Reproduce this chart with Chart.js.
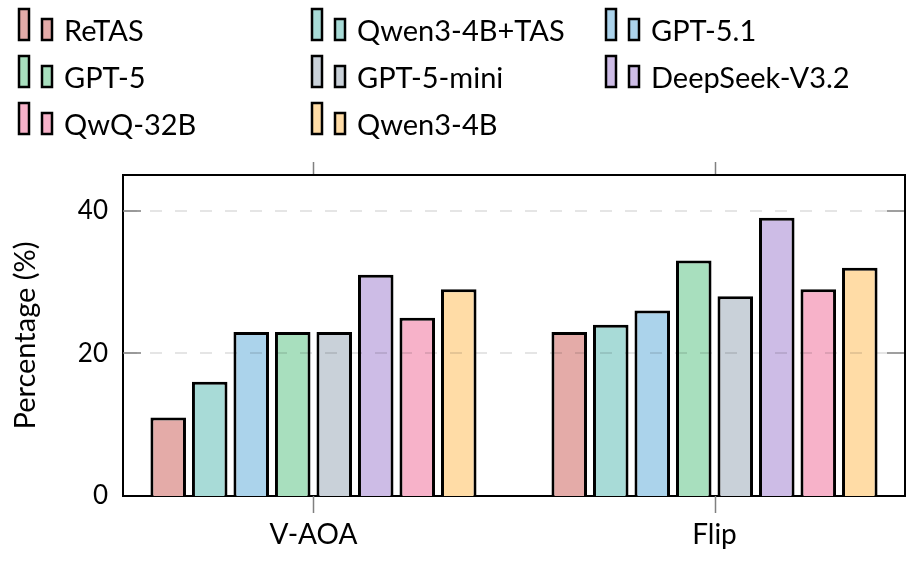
<!DOCTYPE html>
<html>
<head>
<meta charset="utf-8">
<script src="https://cdn.jsdelivr.net/npm/chart.js@4.4.1/dist/chart.umd.min.js"></script>
<style>
    html, body { margin: 0; padding: 0; background: #fff; }
    #wrap { width: 908px; height: 563px; }
</style>
</head>
<body>
<div id="wrap"><canvas id="chart"></canvas></div>
<script>
const categories = ['V-AOA', 'Flip'];
const models = ['ReTAS', 'Qwen3-4B+TAS', 'GPT-5.1', 'GPT-5', 'GPT-5-mini', 'DeepSeek-V3.2', 'QwQ-32B', 'Qwen3-4B'];
const colors = ['#e4aba8', '#a8dbd7', '#abd3eb', '#a8dfbe', '#c9d1d9', '#cdbce6', '#f7b2c9', '#ffdca6'];
const vAoaValues = [11, 16, 23, 23, 23, 31, 25, 29];
const flipValues = [23, 24, 26, 33, 28, 39, 29, 32];
const yTicks = [0, 20, 40];

Chart.defaults.font.family = 'Lato';
Chart.defaults.color = '#000';

// pgfplots-like extras: dashed grid over bars, inner ticks, box, custom legend
const extrasPlugin = {
    id: 'extras',
    afterDatasetsDraw(chart) {
        const ctx = chart.ctx;
        const area = chart.chartArea;
        const xs = chart.scales.x;
        const ys = chart.scales.y;
        ctx.save();

        // dashed horizontal grid
        ctx.strokeStyle = 'rgba(0,0,0,0.1)';
        ctx.lineWidth = 2;
        ctx.setLineDash([12, 13]);
        yTicks.filter(v => v > 0).forEach(v => {
            const py = Math.round(ys.getPixelForValue(v));
            ctx.beginPath();
            ctx.moveTo(area.left + 2, py);
            ctx.lineTo(area.right - 2, py);
            ctx.stroke();
        });
        ctx.setLineDash([]);

        // y ticks inside, both sides
        ctx.strokeStyle = '#808080';
        ctx.lineWidth = 1.5;
        yTicks.filter(v => v > 0).forEach(v => {
            const py = Math.round(ys.getPixelForValue(v));
            ctx.beginPath();
            ctx.moveTo(area.left, py);
            ctx.lineTo(area.left + 18, py);
            ctx.moveTo(area.right - 18, py);
            ctx.lineTo(area.right, py);
            ctx.stroke();
        });

        // x ticks outside, top and bottom
        categories.forEach((c, i) => {
            const px = Math.round(xs.getPixelForValue(i)) + 0.5;
            ctx.beginPath();
            ctx.moveTo(px, area.top - 13);
            ctx.lineTo(px, area.top);
            ctx.moveTo(px, area.bottom);
            ctx.lineTo(px, area.bottom + 17);
            ctx.stroke();
        });

        // top and right frame
        ctx.strokeStyle = '#000';
        ctx.lineWidth = 2;
        ctx.beginPath();
        ctx.moveTo(area.left, area.top);
        ctx.lineTo(area.right, area.top);
        ctx.lineTo(area.right, area.bottom);
        ctx.stroke();

        // legend, 3 columns
        const colX = [18, 311, 605];
        const rowBase = [41, 88, 135];
        chart.data.datasets.forEach((ds, i) => {
            const x = colX[i % 3];
            const b = rowBase[Math.floor(i / 3)];
            ctx.fillStyle = ds.backgroundColor;
            ctx.strokeStyle = '#000';
            ctx.lineWidth = 2.5;
            ctx.fillRect(x + 1, b - 32, 10, 31);
            ctx.strokeRect(x + 1, b - 32, 10, 31);
            ctx.fillRect(x + 24, b - 22, 10, 21);
            ctx.strokeRect(x + 24, b - 22, 10, 21);
            ctx.fillStyle = '#000';
            ctx.font = '29px Lato';
            ctx.textBaseline = 'alphabetic';
            ctx.fillText(ds.label, x + 46, b);
        });

        ctx.restore();
    }
};

const ctx = document.getElementById('chart').getContext('2d');
new Chart(ctx, {
    type: 'bar',
    data: {
        datasets: models.map((m, i) => ({
            label: m,
            data: [{ x: 0, y: vAoaValues[i] }, { x: 1, y: flipValues[i] }],
            backgroundColor: colors[i],
            borderColor: '#000',
            borderWidth: 3,
            categoryPercentage: 0.828,
            barPercentage: 0.856
        }))
    },
    options: {
        responsive: true,
        maintainAspectRatio: false,
        animation: false,
        devicePixelRatio: 1,
        layout: { padding: { top: 175, right: 3, left: 0, bottom: 0 } },
        plugins: {
            legend: { display: false },
            tooltip: { enabled: false }
        },
        scales: {
            x: {
                type: 'linear',
                offset: false,
                min: -0.475,
                max: 1.475,
                afterBuildTicks: s => { s.ticks = categories.map((c, i) => ({ value: i })); },
                afterFit: s => { s.height = 67; },
                grid: { display: false, drawTicks: false, offset: false },
                border: { display: true, color: '#000', width: 2 },
                ticks: {
                    callback: v => categories[v],
                    font: { size: 28 },
                    color: '#000',
                    padding: 22,
                    maxRotation: 0
                }
            },
            y: {
                min: 0,
                max: 45,
                afterBuildTicks: s => { s.ticks = yTicks.map(v => ({ value: v })); },
                afterFit: s => { s.width = 123; },
                grid: { display: false, drawTicks: false },
                border: { display: true, color: '#000', width: 2 },
                ticks: {
                    font: { size: 26 },
                    color: '#000',
                    padding: 15
                },
                title: {
                    display: true,
                    text: 'Percentage (%)',
                    font: { size: 29 },
                    color: '#000',
                    padding: { top: 8, bottom: 0 }
                }
            }
        }
    },
    plugins: [extrasPlugin]
});
</script>
</body>
</html>
